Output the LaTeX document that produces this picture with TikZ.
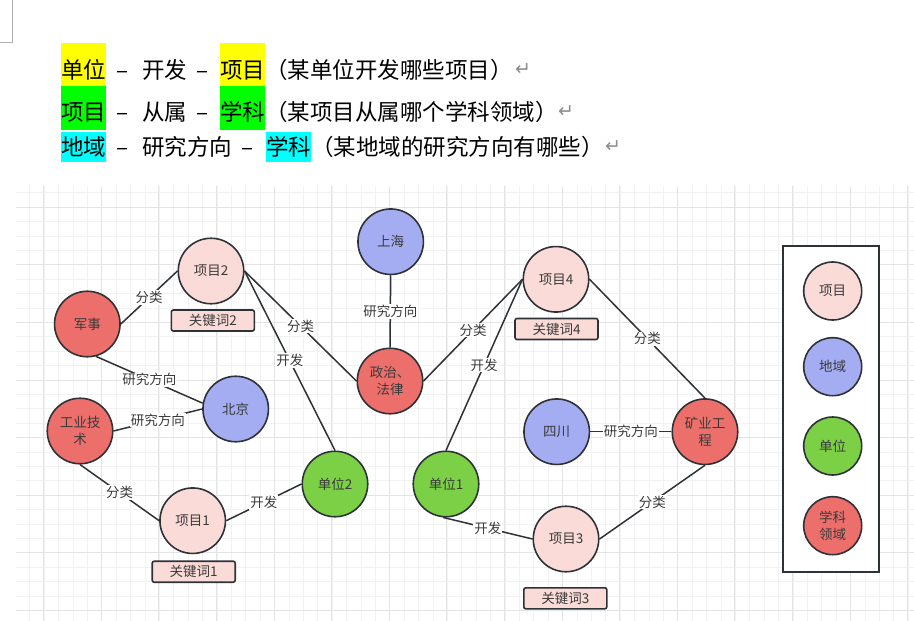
\documentclass[tikz,border=0pt]{standalone}
\usepackage{fontspec}
\setmainfont{Noto Sans CJK SC}
\newfontfamily\symfont{DejaVu Sans}
\usepackage{xcolor}

\begin{document}
\begin{tikzpicture}[x=1pt,y=-1pt,
  ent/.style={circle,draw=edgeclr,line width=1.6pt,minimum size=65.5pt,inner sep=0pt,text=txtclr,font=\fontsize{13.5}{17.5}\selectfont,align=center},
  kwbox/.style={rectangle,rounded corners=2pt,draw=edgeclr,line width=1.6pt,fill=xmfill,minimum width=83pt,minimum height=21pt,inner sep=0pt,text=txtclr,font=\fontsize{13.5}{16}\selectfont},
  rel/.style={draw=edgeclr,line width=1.5pt},
  rellbl/.style={fill=white,inner sep=1pt,text=txtclr,font=\fontsize{13.5}{16}\selectfont},
  hdr/.style={inner sep=0pt,anchor=base west,font=\fontsize{22.5}{27}\selectfont},
  ret/.style={inner sep=0pt,anchor=west,text=retclr,font=\symfont\fontsize{19}{19}\selectfont}]
\definecolor{edgeclr}{HTML}{2D3236}
\definecolor{txtclr}{HTML}{3A3A3A}
\definecolor{xmfill}{HTML}{FADBD8}
\definecolor{dyfill}{HTML}{A5ADF2}
\definecolor{dwfill}{HTML}{7BD045}
\definecolor{xkfill}{HTML}{EC6F6B}
\definecolor{hlyellow}{HTML}{FFFF00}
\definecolor{hlgreen}{HTML}{00FF00}
\definecolor{hlcyan}{HTML}{00FFFF}
\definecolor{gridminor}{HTML}{F2F2F2}
\definecolor{gridmajor}{HTML}{E4E4E4}
\definecolor{retclr}{HTML}{8C8C8C}
\useasboundingbox (0,0) rectangle (914,621);

% page corner mark
\draw[retclr!70,line width=0.8pt] (12,0) -- (12,42) -- (0,42);

% header lines
\node[hdr,fill=hlyellow,text height=35pt,text depth=8pt] (r1a) at (61,78) {单位};
\node[hdr,anchor=base] (r1b) at (123,78) {–};
\node[hdr] (r1c) at (142,78) {开发};
\node[hdr,anchor=base] (r1d) at (202.5,78) {–};
\node[hdr,fill=hlyellow,text height=35pt,text depth=8pt] (r1e) at (220,78) {项目};
\node[hdr] (r1f) at (265,78) {（某单位开发哪些项目）};
\node[ret] (r1g) at (515,70) {↵};

\node[hdr,fill=hlgreen,text height=34pt,text depth=10pt] (r2a) at (61,120) {项目};
\node[hdr,anchor=base] (r2b) at (123,120) {–};
\node[hdr] (r2c) at (142,120) {从属};
\node[hdr,anchor=base] (r2d) at (202.5,120) {–};
\node[hdr,fill=hlgreen,text height=34pt,text depth=10pt] (r2e) at (220,120) {学科};
\node[hdr] (r2f) at (265,120) {（某项目从属哪个学科领域）};
\node[ret] (r2g) at (558,112) {↵};

\node[hdr,fill=hlcyan,text height=23pt,text depth=7pt] (r3a) at (61,155) {地域};
\node[hdr,anchor=base] (r3b) at (123,155) {–};
\node[hdr] (r3c) at (142,155) {研究方向};
\node[hdr,anchor=base] (r3d) at (248,155) {–};
\node[hdr,fill=hlcyan,text height=23pt,text depth=7pt] (r3e) at (266,155) {学科};
\node[hdr] (r3f) at (311,155) {（某地域的研究方向有哪些）};
\node[ret] (r3g) at (605,147) {↵};

% grid paper
\begin{scope}
  \clip (16,186) rectangle (914,621);
  \foreach \gx in {0,...,62}
    {\draw[gridminor,line width=0.8pt] (15.3+14.4*\gx,186) -- (15.3+14.4*\gx,621);}
  \foreach \gy in {0,...,29}
    {\draw[gridminor,line width=0.8pt] (16,192.7+14.4*\gy) -- (914,192.7+14.4*\gy);}
  \foreach \gx in {0,...,15}
    {\draw[gridmajor,line width=1pt] (43.7+57.6*\gx,186) -- (43.7+57.6*\gx,621);}
  \foreach \gy in {0,...,7}
    {\draw[gridmajor,line width=1pt] (16,207.3+57.6*\gy) -- (914,207.3+57.6*\gy);}
\end{scope}

% entities
\node[ent,fill=xmfill] (xm2) at (211,271) {项目2};
\node[kwbox] (kw2) at (212.8,320.5) {关键词2};
\node[ent,fill=xkfill] (js) at (87.3,324) {军事};
\node[ent,fill=dyfill] (sh) at (390.7,241.7) {上海};
\node[ent,fill=xkfill] (zf) at (390,381) {政治、\\法律};
\node[ent,fill=dyfill] (bj) at (235.7,409) {北京};
\node[ent,fill=xkfill] (gy) at (80,431) {工业技\\术};
\node[ent,fill=xmfill] (xm1) at (192.7,520.7) {项目1};
\node[kwbox] (kw1) at (193.7,571.7) {关键词1};
\node[ent,fill=dwfill] (dw2) at (335,484) {单位2};
\node[ent,fill=dwfill] (dw1) at (446,484) {单位1};
\node[ent,fill=xmfill] (xm4) at (556,279.3) {项目4};
\node[kwbox] (kw4) at (556.5,329) {关键词4};
\node[ent,fill=dyfill] (sc) at (556.7,431.7) {四川};
\node[ent,fill=xkfill] (ky) at (705,431.7) {矿业工\\程};
\node[ent,fill=xmfill] (xm3) at (566,539) {项目3};
\node[kwbox] (kw3) at (565.3,598.3) {关键词3};

% relations
\draw[rel] (js.east) -- node[rellbl] {分类} (xm2.west);
\draw[rel] (xm2.east) -- node[rellbl] {分类} (zf.west);
\draw[rel] (xm2.east) -- node[rellbl] {开发} (dw2.north);
\draw[rel] (sh.south) -- node[rellbl] {研究方向} (zf.north);
\draw[rel] (js.285) -- node[rellbl] {研究方向} (bj.170);
\draw[rel] (gy.east) -- node[rellbl] {研究方向} (bj.west);
\draw[rel] (gy.south) -- node[rellbl] {分类} (xm1.west);
\draw[rel] (xm1.east) -- node[rellbl] {开发} (dw2.west);
\draw[rel] (dw1.north) -- node[rellbl] {开发} (xm4.west);
\draw[rel] (zf.east) -- node[rellbl] {分类} (xm4.west);
\draw[rel] (xm4.east) -- node[rellbl] {分类} (ky.north);
\draw[rel] (sc.east) -- node[rellbl] {研究方向} (ky.west);
\draw[rel] (ky.south) -- node[rellbl] {分类} (xm3.east);
\draw[rel] (dw1.265) -- node[rellbl] {开发} (xm3.west);

% legend
\draw[edgeclr,fill=white,line width=2pt] (783.3,246) rectangle (879,571.7);
\foreach \clr/\txt/\ly [count=\i] in {xmfill/项目/291,dyfill/地域/366.7,dwfill/单位/446,xkfill/{学科\\领域}/525.7}
  {\node[ent,minimum size=58pt,fill=\clr] (lg\i) at (832.7,\ly) {\txt};}
\end{tikzpicture}
\end{document}
